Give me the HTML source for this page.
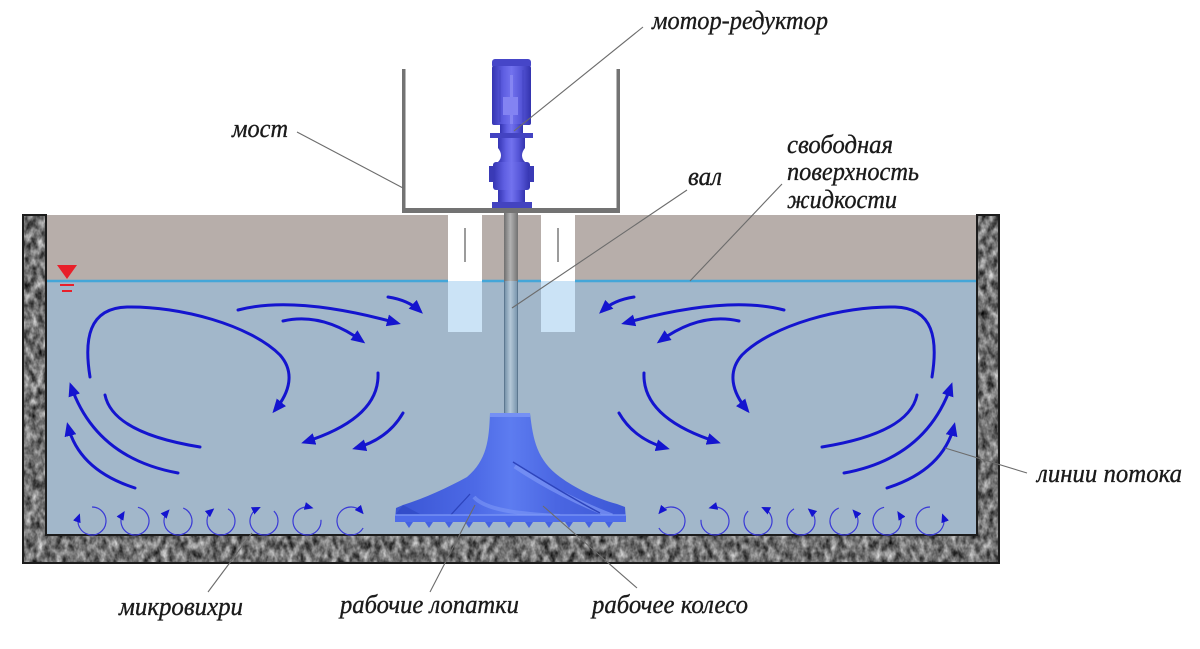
<!DOCTYPE html>
<html>
<head>
<meta charset="utf-8">
<style>
  html,body{margin:0;padding:0;background:#fff;}
  svg{display:block;}
  .lbl{font-family:"Liberation Serif","DejaVu Serif",serif;font-style:italic;font-size:26px;fill:#1a1a1a;stroke:#1a1a1a;stroke-width:0.35;}
  .ld{stroke:#6c6c6c;stroke-width:1.1;fill:none;}
  .fl{stroke:#1414cf;stroke-width:3;fill:none;stroke-linecap:round;}
  .mv{stroke:#3a3ad6;stroke-width:1.2;fill:none;}
</style>
</head>
<body>
<svg width="1200" height="649" viewBox="0 0 1200 649" xmlns="http://www.w3.org/2000/svg">
  <defs>
    <filter id="gr" x="0" y="0" width="1" height="1" filterUnits="objectBoundingBox" color-interpolation-filters="sRGB">
      <feTurbulence type="fractalNoise" baseFrequency="0.16 0.1" numOctaves="3" seed="7" result="n"/>
      <feColorMatrix in="n" type="matrix" values="1.05 0 0 0 -0.08  1.05 0 0 0 -0.08  1.05 0 0 0 -0.08  0 0 0 0 1"/>
    </filter>
    <marker id="ah" markerWidth="14" markerHeight="12" refX="10" refY="6" orient="auto" markerUnits="userSpaceOnUse">
      <path d="M0,0 L14,6 L0,12 z" fill="#1414cf"/>
    </marker>
    <marker id="sa" markerWidth="9" markerHeight="8" refX="6" refY="4" orient="auto" markerUnits="userSpaceOnUse">
      <path d="M0,0 L9,4 L0,8 z" fill="#1414cf"/>
    </marker>
    <linearGradient id="mg" x1="0" y1="0" x2="1" y2="0">
      <stop offset="0" stop-color="#3434b2"/>
      <stop offset="0.3" stop-color="#5f5fe2"/>
      <stop offset="0.5" stop-color="#7272ee"/>
      <stop offset="0.75" stop-color="#5656d8"/>
      <stop offset="1" stop-color="#3333ae"/>
    </linearGradient>
    <linearGradient id="ig" x1="0" y1="0" x2="1" y2="0">
      <stop offset="0" stop-color="#3a55d4"/>
      <stop offset="0.35" stop-color="#4d6ae6"/>
      <stop offset="0.5" stop-color="#5d7cf0"/>
      <stop offset="0.7" stop-color="#4a66e2"/>
      <stop offset="1" stop-color="#3d58d6"/>
    </linearGradient>
    <linearGradient id="sg" x1="0" y1="0" x2="1" y2="0">
      <stop offset="0" stop-color="#6d8aa2"/>
      <stop offset="0.45" stop-color="#b4c8d8"/>
      <stop offset="1" stop-color="#7390a8"/>
    </linearGradient>
    <linearGradient id="sg2" x1="0" y1="0" x2="1" y2="0">
      <stop offset="0" stop-color="#6e6e6e"/>
      <stop offset="0.45" stop-color="#b2b2b2"/>
      <stop offset="1" stop-color="#727272"/>
    </linearGradient>
  </defs>

  <!-- top band and water -->
  <rect x="46" y="215" width="931" height="66" fill="#b7aeaa"/>
  <rect x="46" y="281" width="931" height="254" fill="#a2b7ca"/>
  <line x1="46" y1="281" x2="977" y2="281" stroke="#45a6d8" stroke-width="2.5"/>

  <!-- walls -->
  <rect x="23" y="215" width="23" height="348" filter="url(#gr)"/>
  <rect x="977" y="215" width="22" height="348" filter="url(#gr)"/>
  <rect x="23" y="535" width="976" height="28" filter="url(#gr)"/>
  <path d="M23,215 V563 H999 V215 H977 V535 H46 V215 Z" fill="none" stroke="#1c1c1c" stroke-width="2"/>

  <!-- water level symbol -->
  <polygon points="57,265 77,265 67,279" fill="#e8202a"/>
  <line x1="60" y1="285" x2="74" y2="285" stroke="#e8202a" stroke-width="2"/>
  <line x1="62" y1="291" x2="72" y2="291" stroke="#e8202a" stroke-width="2"/>

  <!-- baffles -->
  <rect x="448" y="215" width="34" height="66" fill="#ffffff"/>
  <rect x="448" y="281" width="34" height="51" fill="#cbe3f6"/>
  <rect x="541" y="215" width="34" height="66" fill="#ffffff"/>
  <rect x="541" y="281" width="34" height="51" fill="#cbe3f6"/>
  <line x1="465" y1="228" x2="465" y2="262" stroke="#7a7a7a" stroke-width="1.5"/>
  <line x1="558" y1="228" x2="558" y2="262" stroke="#7a7a7a" stroke-width="1.5"/>

  <!-- shaft -->
  <rect x="504" y="213" width="14" height="68" fill="url(#sg2)"/>
  <rect x="504" y="281" width="14" height="134" fill="url(#sg)"/>
  <line x1="504.5" y1="281" x2="504.5" y2="413" stroke="#5d7890" stroke-width="1"/>
  <line x1="517.5" y1="281" x2="517.5" y2="413" stroke="#5d7890" stroke-width="1"/>

  <!-- impeller -->
  <path d="M490,413 L530,413 C533,440 537,460 560,477 C575,488 595,498 617,504 L625,507 L626,521 L395,521 L396,508 L403,505 C425,498 447,488 467,477 C487,460 489,440 490,413 Z" fill="url(#ig)"/>
  <rect x="490" y="413" width="40" height="4" fill="#7590f4"/>
  <path d="M515,466 C545,486 580,504 612,516" stroke="#7d97f6" stroke-width="5" fill="none" opacity="0.7"/>
  <path d="M513,462 C542,480 575,500 600,513" stroke="#2d44bc" stroke-width="1.5" fill="none"/>
  <path d="M474,497 C485,510 520,514 560,516" stroke="#7d97f6" stroke-width="4" fill="none" opacity="0.6"/>
  <path d="M470,494 C462,503 455,510 450,516" stroke="#2d44bc" stroke-width="1.3" fill="none"/>
  <path d="M403,505 L420,514 L396,514 Z" fill="#2f48c4" opacity="0.7"/>
  <rect x="395" y="515" width="231" height="7" fill="#4e6cea"/>
  <line x1="395" y1="515" x2="626" y2="515" stroke="#7e98f6" stroke-width="1.2"/>
  <g fill="#4462e2">
    <polygon points="405,522 413,522 409,528"/>
    <polygon points="425,522 433,522 429,528"/>
    <polygon points="445,522 453,522 449,528"/>
    <polygon points="465,522 473,522 469,528"/>
    <polygon points="485,522 493,522 489,528"/>
    <polygon points="505,522 513,522 509,528"/>
    <polygon points="525,522 533,522 529,528"/>
    <polygon points="545,522 553,522 549,528"/>
    <polygon points="565,522 573,522 569,528"/>
    <polygon points="585,522 593,522 589,528"/>
    <polygon points="605,522 613,522 609,528"/>
  </g>

  <!-- bridge -->
  <rect x="402" y="69" width="3.5" height="144" fill="#737373"/>
  <rect x="616.5" y="69" width="3.5" height="144" fill="#737373"/>
  <rect x="402" y="208" width="218" height="5" fill="#737373"/>

  <!-- motor-reducer -->
  <rect x="492" y="59" width="39" height="9" rx="3" fill="#4646c8"/>
  <rect x="492" y="66" width="39" height="59" rx="2" fill="url(#mg)"/>
  <line x1="500" y1="70" x2="500" y2="122" stroke="#4444c4" stroke-width="1"/>
  <line x1="523" y1="70" x2="523" y2="122" stroke="#4444c4" stroke-width="1"/>
  <rect x="510" y="75" width="3" height="50" fill="#8585f2"/>
  <rect x="503" y="97" width="15" height="18" fill="#8383f2"/>
  <rect x="500" y="124" width="23" height="9" fill="url(#mg)"/>
  <rect x="490" y="133" width="43" height="5" fill="#4343c2"/>
  <path d="M498,138 L525,138 L525,148 C521,153 521,158 525,162 L498,162 C502,158 502,153 498,148 Z" fill="url(#mg)"/>
  <rect x="493" y="162" width="37" height="28" rx="3" fill="url(#mg)"/>
  <rect x="489" y="166" width="5" height="16" fill="#3a3ab6"/>
  <rect x="529" y="166" width="5" height="16" fill="#3a3ab6"/>
  <rect x="498" y="190" width="27" height="12" fill="url(#mg)"/>
  <rect x="492" y="202" width="40" height="6" fill="#4343c0"/>

  <!-- flow lines left -->
  <g id="leftflow">
    <path class="fl" marker-end="url(#ah)" d="M90,377 C84,340 88,308 127,307 C180,306 250,325 280,355 C295,372 290,392 275,410"/>
    <path class="fl" marker-end="url(#ah)" d="M238,310 Q295,295 397,323"/>
    <path class="fl" marker-end="url(#ah)" d="M283,321 Q322,312 362,341"/>
    <path class="fl" marker-end="url(#ah)" d="M388,297 Q408,300 420,311"/>
    <path class="fl" marker-end="url(#ah)" d="M378,373 Q380,418 305,442"/>
    <path class="fl" marker-end="url(#ah)" d="M403,413 Q388,439 356,448"/>
    <path class="fl" d="M105,395 Q113,433 200,447"/>
    <path class="fl" marker-end="url(#ah)" d="M178,473 Q96,458 71,386"/>
    <path class="fl" marker-end="url(#ah)" d="M135,488 Q79,470 68,426"/>
    <!-- micro vortices -->
    <path class="mv" marker-end="url(#sa)" d="M92,507 A14,14 0 1 1 78.84,516.21"/>
    <path class="mv" marker-end="url(#sa)" d="M137.91,507.31 A14,14 0 1 1 123.13,513.58"/>
    <path class="mv" marker-end="url(#sa)" d="M183.24,508.02 A14,14 0 1 1 167.6,511.63"/>
    <path class="mv" marker-end="url(#sa)" d="M228,508.88 A14,14 0 1 1 212,510.28"/>
    <path class="mv" marker-end="url(#sa)" d="M273.9,511.1 A14,14 0 1 1 258.08,508.31"/>
    <path class="mv" marker-end="url(#sa)" d="M320.95,519.78 A14,14 0 1 1 310.62,507.48"/>
    <path class="mv" marker-end="url(#sa)" d="M363.12,528 A14,14 0 1 1 361.72,512"/>
  </g>
  <use href="#leftflow" transform="matrix(-1 0 0 1 1022 0)"/>

  <!-- leader lines -->
  <line class="ld" x1="297" y1="132" x2="403" y2="188"/>
  <line class="ld" x1="643" y1="27" x2="514" y2="131"/>
  <line class="ld" x1="687" y1="190" x2="512" y2="308"/>
  <line class="ld" x1="782" y1="184" x2="690" y2="281"/>
  <line class="ld" x1="1027" y1="473" x2="945" y2="448"/>
  <line class="ld" x1="252" y1="533" x2="208" y2="592"/>
  <line class="ld" x1="475" y1="505" x2="430" y2="592"/>
  <line class="ld" x1="543" y1="506" x2="637" y2="588"/>

  <!-- labels -->
  <text class="lbl" x="652" y="29" textLength="176" lengthAdjust="spacingAndGlyphs">мотор-редуктор</text>
  <text class="lbl" x="232" y="137" textLength="56" lengthAdjust="spacingAndGlyphs">мост</text>
  <text class="lbl" x="688" y="185" textLength="34" lengthAdjust="spacingAndGlyphs">вал</text>
  <text class="lbl" x="787" y="153" textLength="106" lengthAdjust="spacingAndGlyphs">свободная</text>
  <text class="lbl" x="787" y="180" textLength="132" lengthAdjust="spacingAndGlyphs">поверхность</text>
  <text class="lbl" x="787" y="208" textLength="110" lengthAdjust="spacingAndGlyphs">жидкости</text>
  <text class="lbl" x="1037" y="482" textLength="145" lengthAdjust="spacingAndGlyphs">линии потока</text>
  <text class="lbl" x="119" y="615" textLength="124" lengthAdjust="spacingAndGlyphs">микровихри</text>
  <text class="lbl" x="340" y="613" textLength="179" lengthAdjust="spacingAndGlyphs">рабочие лопатки</text>
  <text class="lbl" x="592" y="613" textLength="156" lengthAdjust="spacingAndGlyphs">рабочее колесо</text>
</svg>
</body>
</html>
